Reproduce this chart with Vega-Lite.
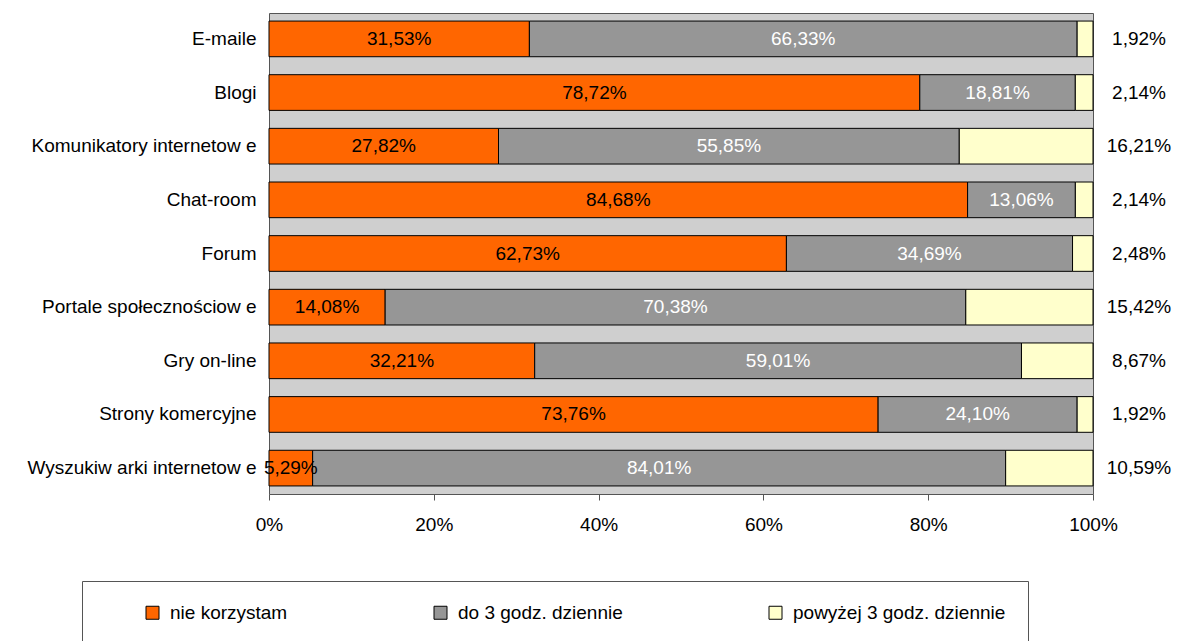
{
  "$schema": "https://vega.github.io/schema/vega-lite/v6.json",
  "width": 824,
  "height": 481,
  "autosize": {"type": "none"},
  "padding": {"left": 269, "top": 13, "right": 84, "bottom": 147},
  "data": {
    "values": [
      {"cat": "E-maile", "series": "nie korzystam", "order": 1, "v": 0.3153},
      {"cat": "E-maile", "series": "do 3 godz. dziennie", "order": 2, "v": 0.6633},
      {"cat": "E-maile", "series": "powyżej 3 godz. dziennie", "order": 3, "v": 0.0192},
      {"cat": "Blogi", "series": "nie korzystam", "order": 1, "v": 0.7872},
      {"cat": "Blogi", "series": "do 3 godz. dziennie", "order": 2, "v": 0.1881},
      {"cat": "Blogi", "series": "powyżej 3 godz. dziennie", "order": 3, "v": 0.0214},
      {"cat": "Komunikatory internetow e", "series": "nie korzystam", "order": 1, "v": 0.2782},
      {"cat": "Komunikatory internetow e", "series": "do 3 godz. dziennie", "order": 2, "v": 0.5585},
      {"cat": "Komunikatory internetow e", "series": "powyżej 3 godz. dziennie", "order": 3, "v": 0.1621},
      {"cat": "Chat-room", "series": "nie korzystam", "order": 1, "v": 0.8468},
      {"cat": "Chat-room", "series": "do 3 godz. dziennie", "order": 2, "v": 0.1306},
      {"cat": "Chat-room", "series": "powyżej 3 godz. dziennie", "order": 3, "v": 0.0214},
      {"cat": "Forum", "series": "nie korzystam", "order": 1, "v": 0.6273},
      {"cat": "Forum", "series": "do 3 godz. dziennie", "order": 2, "v": 0.3469},
      {"cat": "Forum", "series": "powyżej 3 godz. dziennie", "order": 3, "v": 0.0248},
      {"cat": "Portale społecznościow e", "series": "nie korzystam", "order": 1, "v": 0.1408},
      {"cat": "Portale społecznościow e", "series": "do 3 godz. dziennie", "order": 2, "v": 0.7038},
      {"cat": "Portale społecznościow e", "series": "powyżej 3 godz. dziennie", "order": 3, "v": 0.1542},
      {"cat": "Gry on-line", "series": "nie korzystam", "order": 1, "v": 0.3221},
      {"cat": "Gry on-line", "series": "do 3 godz. dziennie", "order": 2, "v": 0.5901},
      {"cat": "Gry on-line", "series": "powyżej 3 godz. dziennie", "order": 3, "v": 0.0867},
      {"cat": "Strony komercyjne", "series": "nie korzystam", "order": 1, "v": 0.7376},
      {"cat": "Strony komercyjne", "series": "do 3 godz. dziennie", "order": 2, "v": 0.2410},
      {"cat": "Strony komercyjne", "series": "powyżej 3 godz. dziennie", "order": 3, "v": 0.0192},
      {"cat": "Wyszukiw arki internetow e", "series": "nie korzystam", "order": 1, "v": 0.0529},
      {"cat": "Wyszukiw arki internetow e", "series": "do 3 godz. dziennie", "order": 2, "v": 0.8401},
      {"cat": "Wyszukiw arki internetow e", "series": "powyżej 3 godz. dziennie", "order": 3, "v": 0.1059}
    ]
  },
  "encoding": {
    "y": {
      "field": "cat",
      "type": "nominal",
      "sort": ["E-maile", "Blogi", "Komunikatory internetow e", "Chat-room", "Forum", "Portale społecznościow e", "Gry on-line", "Strony komercyjne", "Wyszukiw arki internetow e"],
      "scale": {"paddingInner": 0.335, "paddingOuter": 0.15},
      "axis": {
        "title": null,
        "ticks": false,
        "tickSize": 0,
        "domain": false,
        "labelPadding": 13,
        "labelLimit": 400,
        "labelFontSize": 19,
        "labelFont": "Liberation Sans",
        "labelColor": "black"
      }
    },
    "order": {"field": "order", "type": "quantitative"}
  },
  "layer": [
    {
      "mark": {"type": "bar", "stroke": "black", "strokeWidth": 1},
      "encoding": {
        "x": {
          "field": "v",
          "type": "quantitative",
          "stack": "normalize",
          "scale": {"domain": [0, 1]},
          "axis": {
            "title": null,
            "format": "%",
            "values": [0, 0.2, 0.4, 0.6, 0.8, 1],
            "grid": false,
            "domain": false,
            "tickColor": "#555555",
            "tickSize": 6,
            "labelFontSize": 19,
            "labelFont": "Liberation Sans",
            "labelColor": "black",
            "labelPadding": 15,
            "labelFlush": false
          }
        },
        "color": {
          "field": "series",
          "type": "nominal",
          "scale": {
            "domain": ["nie korzystam", "do 3 godz. dziennie", "powyżej 3 godz. dziennie"],
            "range": ["#FF6600", "#969696", "#FFFFCC"]
          },
          "legend": {
            "orient": "none",
            "legendX": -187,
            "legendY": 568,
            "direction": "horizontal",
            "columns": 3,
            "columnPadding": 143,
            "symbolType": "square",
            "symbolSize": 169,
            "symbolStrokeColor": "black",
            "symbolStrokeWidth": 1,
            "labelFontSize": 19,
            "labelFont": "Liberation Sans",
            "labelColor": "black",
            "labelOffset": 8,
            "labelLimit": 400,
            "padding": 22,
            "strokeColor": "#555555",
            "fillColor": "white",
            "title": " ",
            "titleOrient": "left",
            "titlePadding": 39
          }
        }
      }
    },
    {
      "mark": {"type": "text", "fontSize": 19, "font": "Liberation Sans"},
      "encoding": {
        "x": {"field": "v", "type": "quantitative", "stack": "normalize", "bandPosition": 0.5},
        "detail": {"field": "series", "type": "nominal"},
        "color": {"condition": {"test": "datum.order == 2", "value": "white"}, "value": "black"},
        "text": {"condition": {"test": "datum.order == 3", "value": ""}, "field": "v", "type": "quantitative", "format": ".2%"}
      }
    },
    {
      "mark": {"type": "text", "dx": 46, "fontSize": 19, "font": "Liberation Sans", "color": "black", "align": "center"},
      "encoding": {
        "x": {"field": "v", "type": "quantitative", "stack": "normalize", "bandPosition": 1},
        "detail": {"field": "series", "type": "nominal"},
        "text": {"condition": {"test": "datum.order != 3", "value": ""}, "field": "v", "type": "quantitative", "format": ".2%"}
      }
    }
  ],
  "config": {
    "locale": {"number": {"decimal": ",", "thousands": " ", "grouping": [3], "currency": ["", " zł"]}},
    "view": {"fill": "#CFCFCF", "stroke": "#555555", "strokeWidth": 1},
    "font": "Liberation Sans"
  }
}
